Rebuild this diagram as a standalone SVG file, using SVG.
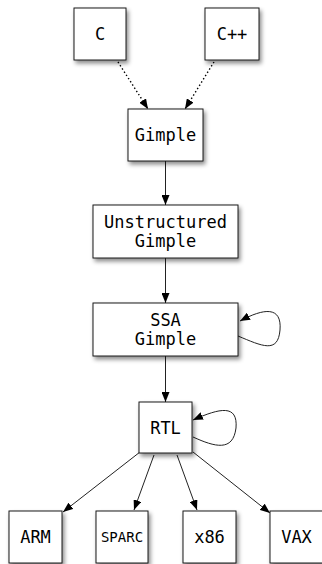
<svg xmlns="http://www.w3.org/2000/svg" width="322" height="564" viewBox="0 0 322 564">
  <style>
    .box { fill: #ffffff; stroke: #1a1a1a; stroke-width: 1; filter: url(#shadow); }
    .lbl { font-family: "DejaVu Sans Mono", "Liberation Mono", monospace; font-size: 17px; fill: #000; text-anchor: middle; }
    .small { font-size: 14px; }
    .edge { fill: none; stroke: #222; stroke-width: 1; marker-end: url(#arrow); }
    .dotted { stroke: #000; stroke-width: 1.4; stroke-dasharray: 1.4 2.4; }
  </style>
  <defs>
    <filter id="shadow" x="-20%" y="-20%" width="150%" height="150%">
      <feDropShadow dx="2" dy="3" stdDeviation="2" flood-color="#000" flood-opacity="0.45"/>
    </filter>
    <marker id="arrow" viewBox="0 0 10 8" refX="10" refY="4" markerWidth="10" markerHeight="8" markerUnits="userSpaceOnUse" orient="auto">
      <path d="M0,0 L10,4 L0,8 Z" fill="#000"/>
    </marker>
  </defs>

  <!-- connectors -->
  <g id="edges">
    <path class="edge dotted" d="M118,62 L148,109"/>
    <path class="edge dotted" d="M214,62 L185,109"/>
    <path class="edge" d="M165.5,161 L165.5,205"/>
    <path class="edge" d="M165.5,258 L165.5,303"/>
    <path class="edge" d="M165.5,356 L165.5,402"/>
    <path class="edge" d="M238,336 C262,346 278,354 280,330 C282,306 264,308 240,321"/>
    <path class="edge" d="M193,437 C215,447 233,452 236,428 C238,404 220,408 193,420"/>
    <path class="edge" d="M140,452 L63,512"/>
    <path class="edge" d="M154,455 L134,510"/>
    <path class="edge" d="M177,455 L197,510"/>
    <path class="edge" d="M193,452 L270,513"/>
  </g>

  <g id="c">
    <rect class="box" x="74" y="8" width="52" height="52"/>
    <text class="lbl" x="100" y="40.2">C</text>
  </g>
  <g id="cpp">
    <rect class="box" x="205" y="8" width="54" height="52"/>
    <text class="lbl" x="232" y="40.2">C++</text>
  </g>
  <g id="gimple">
    <rect class="box" x="128" y="109" width="75" height="52"/>
    <text class="lbl" x="165.5" y="141.2">Gimple</text>
  </g>
  <g id="unstructured-gimple">
    <rect class="box" x="93" y="205" width="145" height="53"/>
    <text class="lbl" x="165.5" y="227.7">Unstructured</text>
    <text class="lbl" x="165.5" y="246.7">Gimple</text>
  </g>
  <g id="ssa-gimple">
    <rect class="box" x="93" y="303" width="145" height="53"/>
    <text class="lbl" x="165.5" y="325.5">SSA</text>
    <text class="lbl" x="165.5" y="345">Gimple</text>
  </g>
  <g id="rtl">
    <rect class="box" x="139" y="402" width="53" height="51"/>
    <text class="lbl" x="165.5" y="433.5">RTL</text>
  </g>
  <g id="arm">
    <rect class="box" x="9" y="511" width="53" height="52"/>
    <text class="lbl" x="35.5" y="543.3">ARM</text>
  </g>
  <g id="sparc">
    <rect class="box" x="96" y="511" width="52" height="52"/>
    <text class="lbl small" x="122" y="542.3">SPARC</text>
  </g>
  <g id="x86">
    <rect class="box" x="183" y="511" width="53" height="52"/>
    <text class="lbl" x="209.5" y="543.3">x86</text>
  </g>
  <g id="vax">
    <rect class="box" x="270" y="511" width="53" height="52"/>
    <text class="lbl" x="296.5" y="543.3">VAX</text>
  </g>
</svg>
